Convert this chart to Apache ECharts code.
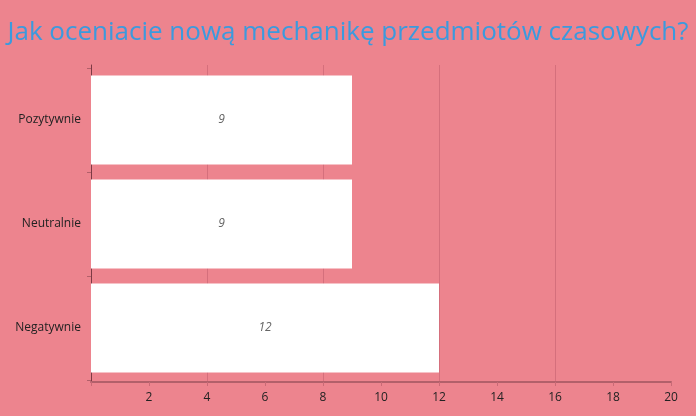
<!DOCTYPE html>
<html>
<head>
<meta charset="utf-8">
<script src="https://cdn.jsdelivr.net/npm/echarts@6/dist/echarts.min.js"></script>
<style>
  html, body { margin: 0; padding: 0; background: #ed848e; }
  #chart { width: 696px; height: 416px; }
</style>
</head>
<body>
<div id="chart"></div>
<script>
const categories = ['Negatywnie', 'Neutralnie', 'Pozytywnie']
const values = [12, 9, 9]
const titleText = 'Jak oceniacie nową mechanikę przedmiotów czasowych?'

const chart = echarts.init(document.getElementById('chart'))
const font = '"Open Sans", sans-serif'

// grid 0 holds the bars, grid 1 the frame (axis lines, grid lines, x labels)
chart.setOption({
  backgroundColor: '#ed848e',
  animation: false,
  title: {
    text: titleText,
    left: 'center',
    top: 15,
    textStyle: { color: '#3b9ade', fontSize: 26, fontWeight: 'normal', fontFamily: font }
  },
  grid: [
    { left: 91, right: 25, top: 68, bottom: 36 },
    { left: 91, right: 25, top: 65, bottom: 34 }
  ],
  xAxis: [
    {
      type: 'value',
      gridIndex: 0,
      min: 0,
      max: 20,
      show: false
    },
    {
      type: 'value',
      gridIndex: 1,
      min: 0,
      max: 20,
      interval: 2,
      axisLine: { show: true, lineStyle: { color: '#b2606a', width: 2 } },
      axisTick: { show: true, length: 4, lineStyle: { color: '#c96a76' } },
      axisLabel: {
        color: '#222',
        fontSize: 12,
        fontFamily: font,
        margin: 10,
        formatter: v => (v === 0 ? '' : v)
      },
      splitLine: { show: false }
    },
    {
      type: 'value',
      gridIndex: 1,
      min: 0,
      max: 20,
      interval: 4,
      position: 'bottom',
      axisLine: { show: false },
      axisTick: { show: false },
      axisLabel: { show: false },
      splitLine: {
        show: true,
        showMinLine: false,
        showMaxLine: false,
        lineStyle: { color: '#d56f7c', width: 1 }
      }
    }
  ],
  yAxis: [
    {
      type: 'category',
      gridIndex: 0,
      data: categories,
      axisLine: { show: false },
      axisTick: { show: true, length: 4, lineStyle: { color: '#b2606a' } },
      axisLabel: { color: '#222', fontSize: 12, fontFamily: font, margin: 10 }
    },
    {
      type: 'value',
      gridIndex: 1,
      min: 0,
      max: 1,
      axisLine: { show: true, lineStyle: { color: '#7d3a44', width: 1 } },
      axisTick: { show: false },
      axisLabel: { show: false },
      splitLine: { show: false }
    }
  ],
  series: [{
    type: 'bar',
    data: values,
    xAxisIndex: 0,
    yAxisIndex: 0,
    barCategoryGap: '14.4%',
    itemStyle: { color: '#ffffff' },
    label: {
      show: true,
      position: 'inside',
      color: '#666',
      fontStyle: 'italic',
      fontSize: 12,
      fontFamily: font
    }
  }]
})
</script>
</body>
</html>
